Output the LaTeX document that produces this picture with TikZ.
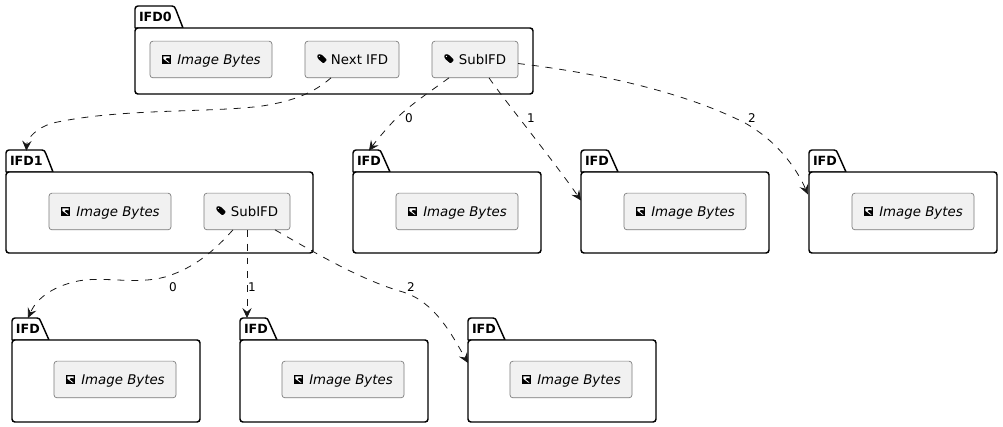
\documentclass[tikz,border=0pt]{standalone}
\usepackage{fontspec}
\setmainfont{DejaVu Sans}
\usetikzlibrary{calc,arrows.meta}
\definecolor{ln}{HTML}{181818}
\definecolor{bxf}{HTML}{F1F1F1}
\definecolor{bxd}{HTML}{7A7A7A}
\tikzset{
  x=0.75pt,y=-0.75pt,
  pkgbody/.style={draw=black,line width=1.1pt,rounded corners=2.2pt,inner sep=0pt,outer sep=0pt,fill=white},
  pkgtab/.style={draw=black,line width=1.1pt,fill=white,line join=round},
  pkglabel/.style={inner sep=0pt,outer sep=0pt,font=\fontsize{9.5pt}{12pt}\selectfont\bfseries,anchor=base west,text=black},
  itembox/.style={draw=bxd,line width=0.5pt,fill=bxf,rounded corners=2.2pt,inner sep=0pt,outer sep=0pt,minimum height=27.5pt,text height=7.6pt,text depth=0pt,text=black,font=\fontsize{10pt}{12pt}\selectfont},
  conn/.style={draw=ln,line width=0.6pt,dash pattern=on 5.2pt off 5.2pt,-{Stealth[length=7.5pt,width=7pt,inset=2.8pt,fill=ln]}},
  elabel/.style={inner sep=0pt,outer sep=0pt,text=black,font=\fontsize{9pt}{11pt}\selectfont},
}
% #1 id, #2 left, #3 tab top, #4 width, #5 body height, #6 tab-top right, #7 tab-bottom right, #8 label
\newcommand{\pkgdraw}[8]{
  \path[pkgtab] (#2,#3+22) -- (#2,#3+3) arc[start angle=180,end angle=90,x radius=3,y radius=-3] -- (#6-3,#3) .. controls (#6-1,#3) and (#6,#3+1) .. (#6+1,#3+4) -- (#7,#3+22) -- cycle;
  \node[pkgbody,minimum width={#4*0.75pt},minimum height={#5*0.75pt}] (#1) at ({#2+#4/2},{#3+22+#5/2}) {};
  \node[pkglabel] (#1t) at (#2+4,#3+16) {#8};
}
\newcommand{\imgicon}[2]{
  \fill[black] (#1,#2) rectangle (#1+9,#2+9);
  \fill[white] (#1+1.3,#2+1.3) -- (#1+7.7,#2+1.3) -- (#1+7.7,#2+3.4) -- (#1+5,#2+2.8) -- (#1+3.4,#2+4.2) -- (#1+7.7,#2+7.7) -- (#1+6.4,#2+7.7) -- (#1+1.3,#2+3.8) -- cycle;
}
\newcommand{\tagicon}[2]{
  \fill[black,rounded corners=0.8pt] (#1,#2+1.6) -- (#1+1.6,#2) -- (#1+5,#2+0.8) -- (#1+10,#2+6) -- (#1+6.5,#2+9.5) -- (#1+1,#2+4.8) -- cycle;
  \fill[white] (#1+2.4,#2+2.4) circle[radius=0.7];
}
% #1 id, #2 left, #3 top
\newcommand{\imgbox}[3]{
  \node[itembox,minimum width=91.5pt] (#1) at (#2+61,#3+18.5) {\hspace*{12pt}\textit{Image Bytes}};
  \imgicon{#2+12}{#3+14}
}
% #1 id, #2 left, #3 top, #4 width, #5 text
\newcommand{\tagbox}[5]{
  \node[itembox,minimum width={#4*0.75pt}] (#1) at ({#2+#4/2},#3+18.5) {\hspace*{11.25pt}#5};
  \tagicon{#2+12}{#3+13}
}
\begin{document}
\begin{tikzpicture}
\useasboundingbox (0,0) rectangle (1003,427);
\pkgdraw{ifdz}{135}{6}{398}{66}{175}{183}{IFD0}
\pkgdraw{ifdo}{6}{150}{307}{81}{45}{53}{IFD1}
\pkgdraw{ra}{353}{150}{188}{81}{381}{390}{IFD}
\pkgdraw{rb}{581}{150}{188}{81}{609}{618}{IFD}
\pkgdraw{rc}{809}{150}{188}{81}{837}{846}{IFD}
\pkgdraw{sa}{12}{318}{188}{82}{40}{49}{IFD}
\pkgdraw{sb}{240}{318}{188}{82}{268}{277}{IFD}
\pkgdraw{sc}{468}{318}{188}{82}{496}{505}{IFD}

\imgbox{ziB}{150}{41}
\tagbox{zN}{305}{41}{94}{Next IFD}
\tagbox{zS}{432}{41}{86}{SubIFD}
\imgbox{oiB}{49}{193}
\tagbox{oS}{204}{193}{86}{SubIFD}
\imgbox{raB}{396}{193}
\imgbox{rbB}{624}{193}
\imgbox{rcB}{852}{193}
\imgbox{saB}{54}{361}
\imgbox{sbB}{282}{361}
\imgbox{scB}{510}{361}

\draw[conn] ($(zN.south)+(-21,0)$) .. controls +(-16,14) and (295,101) .. (262,106) .. controls (210,113) and (120,108) .. (53,123) .. controls (38,127) and (27,138) .. ($(ifdot.north)+(0,-6)$);
\draw[conn] ($(zS.south)+(-26,0)$) .. controls +(-19,14) and (405,108) .. (390,125) .. controls (382,134) and (376,141) .. ($(rat.north)+(0,-6)$);
\draw[conn] ($(zS.south)+(14,0)$) .. controls +(15,22) and (553,160) .. ($(rb.west)+(0,-12)$);
\draw[conn] ($(zS.east)+(0,4)$) .. controls (590,72) and (680,90) .. (745,123) .. controls (775,140) and (795,165) .. ($(rc.west)+(-1,-18)$);
\draw[conn] ($(oS.south)+(-14,0)$) .. controls +(-18,20) and (195,268) .. (165,277) .. controls (135,285) and (105,276) .. (78,281) .. controls (50,287) and (36,300) .. ($(sa.north west)+(16,-22)$);
\draw[conn] ($(oS.south)+(0,0)$) -- ($(sb.north west)+(7,-22)$);
\draw[conn] ($(oS.south)+(28,0)$) .. controls +(35,20) and (360,280) .. (403,292) .. controls (435,302) and (452,335) .. ($(sc.west)+(0,-18)$);

\node[elabel] (la) at (409,118) {0};
\node[elabel] (lb) at (531,118) {1};
\node[elabel] (lc) at (752,118) {2};
\node[elabel] (ld) at (173,287) {0};
\node[elabel] (le) at (252,287) {1};
\node[elabel] (lf) at (411,287) {2};
\end{tikzpicture}
\end{document}
